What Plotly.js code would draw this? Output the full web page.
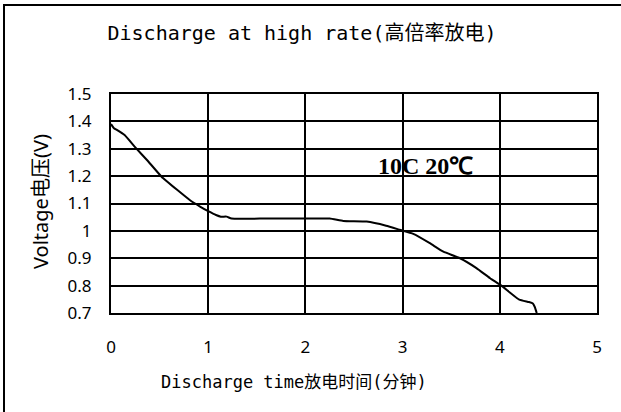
<!DOCTYPE html>
<html>
<head>
<meta charset="utf-8">
<script src="https://cdn.plot.ly/plotly-3.0.1.min.js"></script>
<style>html,body{margin:0;padding:0;background:#fff;}#chart{width:621px;height:412px;}</style>
</head>
<body>
<div id="chart"></div>
<script>
// Data
const timeMin = [0, 0.03, 0.06, 0.14, 0.25, 0.37, 0.52, 0.68, 0.81, 0.92, 1.0, 1.08, 1.13, 1.19, 1.24, 1.6, 1.94, 2.25, 2.39, 2.63, 2.83, 2.97, 3.11, 3.28, 3.42, 3.59, 3.76, 3.90, 4.02, 4.10, 4.20, 4.30, 4.34, 4.36, 4.38];
const voltage = [1.39, 1.375, 1.369, 1.35, 1.305, 1.259, 1.198, 1.150, 1.113, 1.088, 1.072, 1.058, 1.052, 1.052, 1.045, 1.045, 1.045, 1.045, 1.036, 1.034, 1.019, 1.004, 0.989, 0.955, 0.924, 0.900, 0.864, 0.827, 0.799, 0.776, 0.749, 0.740, 0.735, 0.722, 0.70];
const xTicks = [0, 1, 2, 3, 4, 5];
const xTickLabels = ['0', '1', '2', '3', '4', '5'];
const yTicks = [0.7, 0.8, 0.9, 1.0, 1.1, 1.2, 1.3, 1.4, 1.5];
const yTickLabels = ['0.7', '0.8', '0.9', '1', '1.1', '1.2', '1.3', '1.4', '1.5'];
const chartTitle = 'Discharge at high rate(高倍率放电)';
const xTitle = 'Discharge time放电时间(分钟)';
const yTitle = 'Voltage电压(V)';
const labelText = '10C 20℃';
const labelPos = [3.24, 1.238];

const W = 621, H = 412;
const L = 111, R = 24, T = 94, B = 99;
const pw = W - L - R, ph = H - T - B;
const px = v => (v - L) / pw;            // page px -> paper x
const py = v => (H - B - v) / ph;        // page px -> paper y

const monoFont = 'DejaVu Sans Mono, Noto Sans CJK SC, monospace';

const trace = {
  x: timeMin, y: voltage, type: 'scatter', mode: 'lines',
  line: {color: '#000', width: 2, shape: 'spline', smoothing: 0.4},
  hoverinfo: 'skip', showlegend: false
};

const layout = {
  width: W, height: H,
  margin: {l: L, r: R, t: T, b: B, pad: 0},
  paper_bgcolor: '#fff', plot_bgcolor: '#fff',
  showlegend: false,
  title: {text: chartTitle, x: px(302), xanchor: 'center', xref: 'paper', y: 1 - 33 / H, yanchor: 'middle',
          font: {family: monoFont, size: 20, color: '#000'}},
  xaxis: {
    range: [0, 5], tickvals: xTicks, ticktext: xTickLabels,
    showgrid: true, gridcolor: '#000', gridwidth: 2,
    showline: true, linecolor: '#000', linewidth: 2, mirror: true,
    zeroline: false, ticks: '', ticklabelstandoff: 18,
    tickfont: {family: 'Noto Sans, sans-serif', size: 17, color: '#000'},
    fixedrange: true
  },
  yaxis: {
    range: [0.7, 1.5], tickvals: yTicks, ticktext: yTickLabels,
    showgrid: true, gridcolor: '#000', gridwidth: 2,
    showline: true, linecolor: '#000', linewidth: 2, mirror: true,
    zeroline: false, ticks: '', ticklabelstandoff: 14,
    tickfont: {family: 'Noto Sans, sans-serif', size: 17, color: '#000'},
    fixedrange: true
  },
  annotations: [
    {text: xTitle, xref: 'paper', yref: 'paper', x: px(294), y: py(382), xanchor: 'center', yanchor: 'middle',
     showarrow: false, font: {family: monoFont, size: 17, color: '#000'}},
    {text: yTitle, xref: 'paper', yref: 'paper', x: px(40), y: py(202), xanchor: 'center', yanchor: 'middle',
     textangle: -90, showarrow: false, font: {family: 'Noto Sans, Noto Sans CJK SC, sans-serif', size: 20, color: '#000'}},
    {text: '<b>' + labelText + '</b>', xref: 'x', yref: 'y', x: labelPos[0], y: labelPos[1],
     xanchor: 'center', yanchor: 'middle', showarrow: false,
     font: {family: 'Liberation Serif, serif', size: 24, color: '#000'}}
  ],
  shapes: [
    {type: 'line', xref: 'paper', yref: 'paper', x0: px(4), x1: px(4), y0: py(H + 5), y1: py(5), line: {color: '#000', width: 2}},
    {type: 'line', xref: 'paper', yref: 'paper', x0: px(3), x1: px(W + 5), y0: py(5), y1: py(5), line: {color: '#000', width: 2}}
  ]
};

Plotly.newPlot('chart', [trace], layout, {displayModeBar: false, staticPlot: true});
</script>
</body>
</html>
